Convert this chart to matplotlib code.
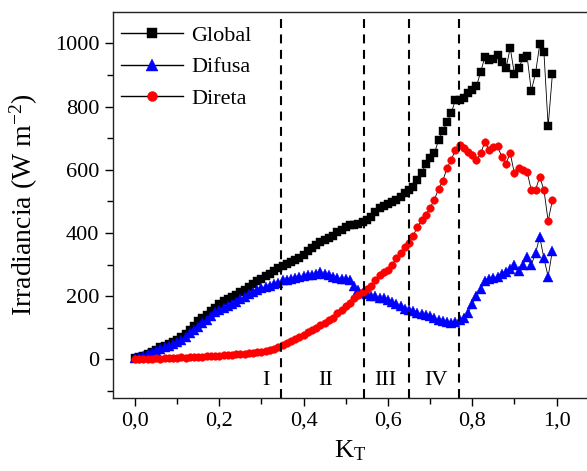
import matplotlib
matplotlib.use("Agg")
import matplotlib.pyplot as plt
from matplotlib.ticker import FuncFormatter, MultipleLocator

plt.rcParams["font.family"] = ["Liberation Serif", "DejaVu Serif"]
plt.rcParams["mathtext.fontset"] = "custom"
plt.rcParams["mathtext.rm"] = "Liberation Serif"
plt.rcParams["mathtext.it"] = "Liberation Serif:italic"

# clearness index bins
kt = [0.00, 0.01, 0.02, 0.03, 0.04, 0.05, 0.06, 0.07, 0.08, 0.09,
      0.10, 0.11, 0.12, 0.13, 0.14, 0.15, 0.16, 0.17, 0.18, 0.19,
      0.20, 0.21, 0.22, 0.23, 0.24, 0.25, 0.26, 0.27, 0.28, 0.29,
      0.30, 0.31, 0.32, 0.33, 0.34, 0.35, 0.36, 0.37, 0.38, 0.39,
      0.40, 0.41, 0.42, 0.43, 0.44, 0.45, 0.46, 0.47, 0.48, 0.49,
      0.50, 0.51, 0.52, 0.53, 0.54, 0.55, 0.56, 0.57, 0.58, 0.59,
      0.60, 0.61, 0.62, 0.63, 0.64, 0.65, 0.66, 0.67, 0.68, 0.69,
      0.70, 0.71, 0.72, 0.73, 0.74, 0.75, 0.76, 0.77, 0.78, 0.79,
      0.80, 0.81, 0.82, 0.83, 0.84, 0.85, 0.86, 0.87, 0.88, 0.89,
      0.90, 0.91, 0.92, 0.93, 0.94, 0.95, 0.96, 0.97, 0.98, 0.99]

global_irr = [4, 8, 12, 18, 24, 30, 38, 44, 50, 56,
              62, 70, 80, 92, 106, 122, 132, 142, 152, 163,
              175, 184, 190, 197, 204, 212, 220, 229, 238, 247,
              256, 264, 272, 280, 288, 296, 302, 309, 315, 321,
              330, 342, 352, 362, 372, 378, 384, 392, 402, 410,
              418, 424, 426, 430, 436, 442, 452, 466, 478, 486,
              492, 498, 504, 514, 526, 536, 546, 568, 589, 620,
              636, 652, 694, 722, 752, 779, 821, 822, 826, 842,
              852, 865, 910, 958, 947, 950, 963, 942, 921, 986,
              903, 921, 953, 960, 850, 905, 997, 972, 738, 902]

difusa = [4, 8, 12, 16, 22, 28, 32, 38, 44, 50,
          56, 62, 72, 84, 94, 104, 116, 126, 138, 150,
          158, 162, 170, 176, 182, 190, 198, 206, 214, 220,
          226, 230, 234, 238, 242, 250, 252, 256, 258, 262,
          264, 266, 268, 272, 276, 270, 266, 262, 258, 256,
          254, 250, 232, 220, 210, 206, 202, 200, 196, 194,
          188, 182, 176, 168, 160, 158, 154, 148, 144, 140,
          136, 130, 126, 122, 118, 116, 118, 124, 132, 146,
          175, 200, 222, 248, 254, 258, 262, 270, 278, 286,
          298, 280, 300, 325, 299, 336, 388, 320, 262, 344]

direta = [0, 2, 1, 3, 2, 4, 3, 5, 4, 6,
          5, 7, 6, 8, 8, 9, 9, 10, 11, 11,
          12, 13, 13, 14, 16, 17, 18, 20, 21, 23,
          25, 27, 30, 34, 40, 46, 52, 60, 66, 72,
          78, 86, 92, 100, 108, 116, 124, 132, 146, 158,
          168, 180, 196, 204, 212, 222, 232, 252, 266, 276,
          283, 300, 320, 336, 356, 370, 392, 420, 440, 458,
          480, 505, 540, 565, 605, 632, 662, 678, 668, 657,
          647, 631, 652, 689, 663, 673, 675, 641, 620, 652,
          589, 605, 599, 594, 536, 536, 578, 536, 438, 504]

limits = [0.346, 0.544, 0.650, 0.769]
regions = ["I", "II", "III", "IV"]
region_x = [0.31, 0.452, 0.594, 0.714]

fig = plt.figure(figsize=(5.87, 4.71), dpi=100)
ax = fig.add_axes([0.193, 0.1556, 0.827, 0.818])

ax.plot(kt, global_irr, color="black", lw=0.6, marker="s", ms=5.8,
        mfc="black", mec="black", mew=0.3, label="Global")
ax.plot(kt, difusa, color="black", lw=0.6, marker="^", ms=6.5,
        mfc="blue", mec="blue", mew=0.3, label="Difusa")
ax.plot(kt, direta, color="black", lw=0.6, marker="o", ms=5.5,
        mfc="red", mec="red", mew=0.3, label="Direta")

for xv in limits:
    ax.axvline(xv, color="black", lw=1.5, ls=(0, (4.3, 3.1)))

for xv, lab in zip(region_x, regions):
    ax.text(xv, -65, lab, ha="center", va="center", fontsize=16)

ax.set_xlim(-0.0515, 1.1)
ax.set_ylim(-121, 1098)
ax.xaxis.set_major_locator(MultipleLocator(0.2))
ax.xaxis.set_minor_locator(MultipleLocator(0.1))
ax.yaxis.set_major_locator(MultipleLocator(200))
ax.yaxis.set_minor_locator(MultipleLocator(100))
ax.xaxis.set_major_formatter(FuncFormatter(lambda v, p: f"{v:.1f}".replace(".", ",")))
ax.tick_params(which="major", direction="out", length=6, width=1, labelsize=16, pad=4)
ax.tick_params(which="minor", direction="out", length=4, width=1)
ax.tick_params(axis="x", which="both", top=False)
ax.tick_params(axis="y", which="both", right=False)
for sp in ax.spines.values():
    sp.set_linewidth(1.0)
    sp.set_color("#222222")

ax.set_ylabel(r"Irradiancia (W m$^{\mathregular{-2}}$)", fontsize=20)
ax.set_xlabel(r"K$_{\mathregular{T}}$", fontsize=19)
ax.yaxis.set_label_coords(-0.151, 0.5)
ax.xaxis.set_label_coords(0.487, -0.105)

leg = ax.legend(loc="upper left", bbox_to_anchor=(-0.003, 0.99), frameon=False,
                fontsize=16, handlelength=2.8, handletextpad=0.39,
                labelspacing=0.5, markerscale=1.3, borderaxespad=0.0)
for line in leg.get_lines():
    line.set_linewidth(1.0)

fig.savefig("out.png", dpi=100)
